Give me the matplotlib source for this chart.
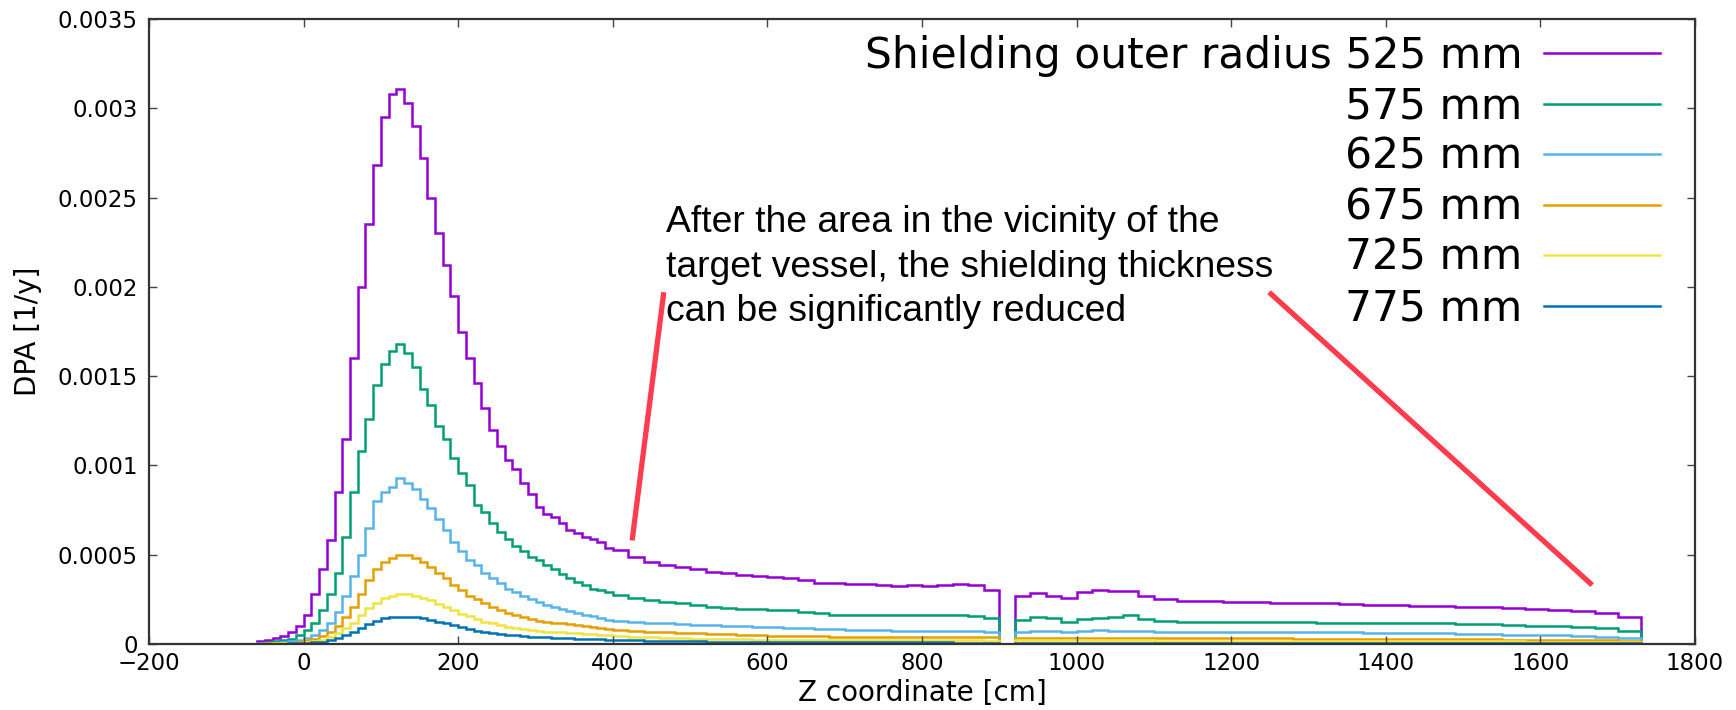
import numpy as np
import matplotlib
matplotlib.use("Agg")
import matplotlib.pyplot as plt

# bin edges [cm]: 10 cm bins around the peak, coarser in the tail, empty bin 900-920
edges = np.concatenate([
    np.arange(-60, 401, 10),
    np.arange(420, 901, 20),
    np.arange(920, 1101, 20),
    np.arange(1130, 1731, 30),
])

# DPA values in units of 1e-5 1/y, one per bin
r525 = [1.5, 2.5, 3.5, 4.5, 7, 10, 16, 28, 42, 58, 85, 115, 160, 200, 235, 268, 295, 308, 311, 303,
        290, 272, 250, 230, 212, 195, 175, 160, 146, 132, 120, 111, 103, 98, 90, 84, 77, 73, 71, 68,
        64, 62, 60, 59, 57, 54,
        52.5, 49, 46, 44.5, 43, 42, 40.5, 39.5, 38.5, 38, 37.5, 37, 36, 34, 34, 33.5, 33.5, 33, 32.5, 33,
        32.5, 33, 33.5, 33, 30,
        0,
        27, 28.5, 27, 25.5, 29, 30, 29.5, 29.5, 27,
        25, 24, 24, 23.5, 23.5, 23, 23, 23, 22.5, 22, 22, 21.5, 21.5, 21, 20.5, 20, 19.5, 19, 18.5, 17.5, 15]
r575 = [0.5, 1, 1.5, 2, 3, 5, 8, 12, 19, 28, 40, 60, 85, 108, 126, 145, 157, 164, 168, 163,
        155, 143, 134, 122, 115, 104, 96, 89, 78, 74, 68, 63, 59, 55, 52, 49, 47, 44, 42, 39,
        37, 35, 33, 31, 30, 29,
        27.5, 26, 24.5, 23.5, 23, 22, 21, 20, 19.5, 19.5, 19, 19, 18, 17.5, 16.5, 16.5, 16.5, 16.5, 16.5, 16.5,
        16, 16, 16, 15.5, 14.5,
        0,
        13.5, 15, 14.5, 12.5, 14, 14.5, 15, 16, 14,
        13, 12.5, 12.5, 12.5, 12.5, 12.5, 12.5, 12, 12, 12, 11.5, 11.5, 11.5, 11, 11, 10.5, 10, 10, 9.5, 9, 7.5]
r625 = [0.3, 0.5, 0.8, 1, 1.5, 2.5, 3.5, 5, 8, 12, 18, 27, 38, 50, 65, 80, 85, 88, 93, 90,
        87, 81, 76, 70, 64, 57, 52, 47, 44, 40, 37, 34, 31, 29, 27, 25, 23.5, 22, 21, 19.5,
        18.5, 17.5, 16.5, 15.5, 14.5, 13.5,
        13, 12.5, 12, 11.5, 11, 10.5, 10.5, 10, 10, 9.5, 9.5, 9, 9, 8.5, 8.5, 8, 8, 8, 7.5, 7.5,
        7.5, 7.5, 7.5, 7.5, 7,
        0,
        7, 7.5, 7.5, 7, 7.5, 8, 7.5, 7.5, 7.5,
        7, 7, 7, 7, 6.5, 6.5, 6.5, 6.5, 6.5, 6, 6, 6, 6, 5.5, 5.5, 5, 5, 5, 4.5, 4, 3.5]
r675 = [0.2, 0.3, 0.4, 0.6, 0.8, 1.2, 2, 3, 4.5, 7, 10, 15, 21, 28, 36, 42, 46, 48, 50, 50,
        48, 46, 43, 40, 37, 33, 30, 27, 25, 23, 21, 19, 17.5, 16, 15, 14, 13, 12.5, 12, 11.5,
        11, 10.5, 10, 9.5, 9, 8.5,
        8, 7.5, 7, 6.5, 6, 6, 5.5, 5.5, 5, 5, 4.5, 4.5, 4.5, 4.5, 4, 4, 4, 4, 4, 4,
        4, 4, 4, 4, 3.8,
        0,
        3.5, 3.5, 3.5, 3.5, 3.5, 3.5, 3.5, 3.5, 3.5,
        3.3, 3.3, 3.2, 3.2, 3.1, 3.1, 3, 3, 3, 2.9, 2.9, 2.8, 2.8, 2.7, 2.6, 2.5, 2.4, 2.3, 2.2, 2, 1.7]
r725 = [0.1, 0.2, 0.3, 0.4, 0.5, 0.7, 1, 1.6, 2.5, 4, 6, 9, 12, 16, 20, 23, 26, 27, 28, 28,
        27, 26, 24.5, 22.5, 21, 19, 17, 15.5, 14, 12.5, 11.5, 10.5, 9.5, 9, 8.5, 8, 7.5, 7, 6.8, 6.5,
        6.3, 6, 5.8, 5.5, 5.3, 5,
        4.6, 4.2, 3.8, 3.5, 3.2, 3, 2.8, 2.7, 2.6, 2.5, 2.4, 2.3, 2.3, 2.2, 2.2, 2.2, 2.1, 2.1, 2.1, 2.1,
        2, 2, 2, 2, 1.9,
        0,
        2, 2, 2, 2, 2, 2, 2, 2, 2,
        1.9, 1.9, 1.9, 1.8, 1.8, 1.8, 1.7, 1.7, 1.7, 1.7, 1.6, 1.6, 1.6, 1.5, 1.5, 1.5, 1.4, 1.4, 1.3, 1.2, 1]
r775 = [0.05, 0.1, 0.15, 0.2, 0.3, 0.4, 0.6, 0.9, 1.4, 2.2, 3.3, 5, 7, 9, 11, 13, 14.5, 15, 15.2, 15.2,
        15, 14.5, 13.5, 12.5, 11.5, 10.5, 9.5, 8.5, 7.5, 7, 6.3, 5.8, 5.3, 4.9, 4.5, 4.2, 3.9, 3.7, 3.5, 3.3,
        3.1, 3, 2.8, 2.7, 2.6, 2.5,
        2.3, 2.1, 1.9, 1.8, 1.6, 1.5, 1.4, 1.3, 1.2, 1.2, 1.1, 1.1, 1, 1, 1, 1, 0.9, 0.9, 0.9, 0.9,
        0.9, 0.9, 0.8, 0.8, 0.8,
        0,
        0.7, 0.7, 0.7, 0.7, 0.7, 0.7, 0.7, 0.7, 0.7,
        0.7, 0.7, 0.7, 0.7, 0.6, 0.6, 0.6, 0.6, 0.6, 0.6, 0.6, 0.5, 0.5, 0.5, 0.5, 0.5, 0.5, 0.4, 0.4, 0.4, 0.3]

series = [r525, r575, r625, r675, r725, r775]
labels = ["Shielding outer radius 525 mm", "575 mm", "625 mm", "675 mm", "725 mm", "775 mm"]
colors = ["#9400D3", "#009E73", "#56B4E9", "#E69F00", "#F0E442", "#0072B2"]

xticks = np.arange(-200, 1801, 200)
yticks = [0, 0.0005, 0.001, 0.0015, 0.002, 0.0025, 0.003, 0.0035]
ytick_labels = ["0", "0.0005", "0.001", "0.0015", "0.002", "0.0025", "0.003", "0.0035"]

# red pointer lines (data coords)
pointer1_x = [466, 425]
pointer1_y = [0.00197, 0.00058]
pointer2_x = [1249, 1667]
pointer2_y = [0.00197, 0.00033]

note = "After the area in the vicinity of the\ntarget vessel, the shielding thickness\ncan be significantly reduced"

fig = plt.figure(figsize=(17.36, 7.10), dpi=100)
ax = fig.add_axes([149 / 1736, 1 - 644 / 710, 1546 / 1736, 625 / 710])

for vals, lab, col in zip(series, labels, colors):
    ax.stairs(np.array(vals) * 1e-5, edges, color=col, lw=1.8, label=lab)

ax.set_xlim(-200, 1800)
ax.set_ylim(0, 0.0035)
ax.set_xticks(xticks)
ax.set_yticks(yticks)
ax.set_yticklabels(ytick_labels)
ax.tick_params(direction="in", top=True, right=True, length=6, width=1, color="#444444",
               labelsize=16.5)
ax.tick_params(axis="x", pad=6)
ax.tick_params(axis="y", pad=8)
for s in ax.spines.values():
    s.set_color("#333333")
    s.set_linewidth(1.6)

ax.set_xlabel("Z coordinate [cm]", fontsize=20)
ax.set_ylabel("DPA [1/y]", fontsize=20)
ax.xaxis.set_label_coords(0.5, -0.056)
ax.yaxis.set_label_coords(-0.069, 0.5)

# legend: text right-aligned, sample line on the right (gnuplot style)
leg = ax.legend(loc="upper right", bbox_to_anchor=(0.9774, 0.9744), markerfirst=False,
                frameon=False, fontsize=30.5, handlelength=2.75, handletextpad=0.5,
                labelspacing=0.2, borderpad=0, borderaxespad=0)

ax.plot(pointer1_x, pointer1_y, color="#FF3B4E", lw=3.8, solid_capstyle="butt", clip_on=False)
ax.plot(pointer2_x, pointer2_y, color="#FF3B4E", lw=3.8, solid_capstyle="butt", clip_on=False)

fig.text(666 / 1736, 1 - 205 / 710, note, fontsize=26.8, family="Liberation Sans",
         ha="left", va="top", linespacing=1.36)

fig.savefig("out.png", dpi=100)
